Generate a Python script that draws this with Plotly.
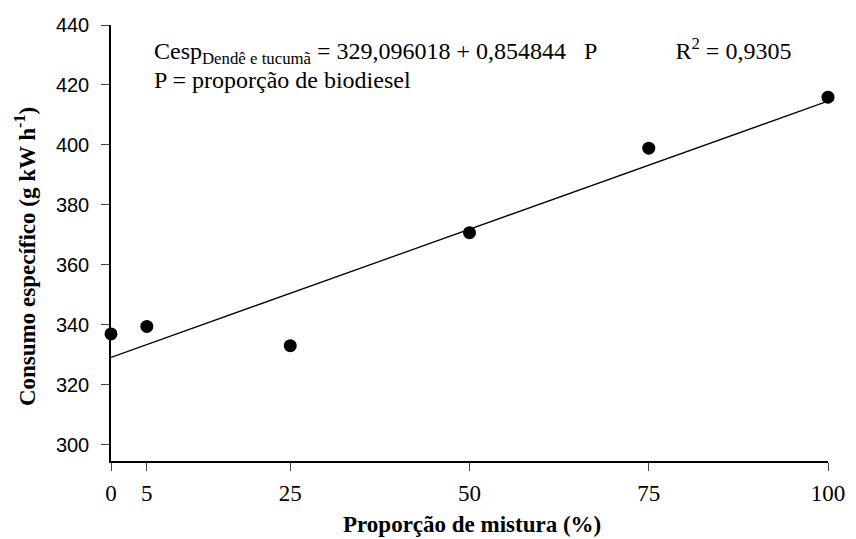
import plotly.graph_objects as go

proporcao = [0, 5, 25, 50, 75, 100]
consumo = [336.9, 339.4, 333.0, 370.7, 398.9, 415.9]
intercepto = 329.096018
inclinacao = 0.854844
x_ticks = [0, 5, 25, 50, 75, 100]
y_ticks = [300, 320, 340, 360, 380, 400, 420, 440]

linha_x = [0, 100]
linha_y = [intercepto + inclinacao * p for p in linha_x]

serif = "Liberation Serif"
fig = go.Figure()
fig.add_trace(go.Scatter(x=linha_x, y=linha_y, mode="lines",
                         line=dict(color="black", width=1.3), showlegend=False))
fig.add_trace(go.Scatter(x=proporcao, y=consumo, mode="markers",
                         marker=dict(color="black", size=13), cliponaxis=False,
                         showlegend=False))

fig.update_layout(
    width=848, height=531,
    margin=dict(l=103, r=28, t=17, b=78),
    paper_bgcolor="white", plot_bgcolor="white",
    font=dict(family=serif, size=16, color="black"),
    xaxis=dict(range=[0, 100], tickvals=x_ticks, ticks="outside", ticklen=8,
               showline=True, linecolor="black", linewidth=1.5, showgrid=False,
               zeroline=False, automargin=False, ticklabelstandoff=3,
               tickfont=dict(family=serif, size=23)),
    yaxis=dict(range=[294.5, 440], tickvals=y_ticks, ticks="outside", ticklen=8,
               showline=True, linecolor="black", linewidth=1.5, showgrid=False,
               zeroline=False, automargin=False, ticklabelstandoff=8,
               tickfont=dict(family="Liberation Sans", size=20)),
)
nb = "\u00a0"
fig.add_annotation(xref="paper", yref="paper", x=-0.12, y=0.47, xanchor="center", yanchor="middle",
                   textangle=-90, text="<b>Consumo específico (g kW h<sup>-1</sup>)</b>",
                   showarrow=False, font=dict(family=serif, size=23))
fig.add_annotation(xref="paper", yref="paper", x=0.503, y=-0.145, xanchor="center", yanchor="middle",
                   text="<b>Proporção de mistura (%)</b>",
                   showarrow=False, font=dict(family=serif, size=23))
fig.add_annotation(xref="paper", yref="paper", x=0.057, y=0.94, xanchor="left", yanchor="middle",
                   text="Cesp<sub>Dendê e tucumã</sub> = 329,096018 + 0,854844" + nb * 3 + "P"
                        + nb * 13 + "R<sup>2</sup> = 0,9305",
                   showarrow=False, font=dict(family=serif, size=24))
fig.add_annotation(xref="paper", yref="paper", x=0.057, y=0.874, xanchor="left", yanchor="middle",
                   text="P = proporção de biodiesel",
                   showarrow=False, font=dict(family=serif, size=24))
fig.write_html("out.html")
